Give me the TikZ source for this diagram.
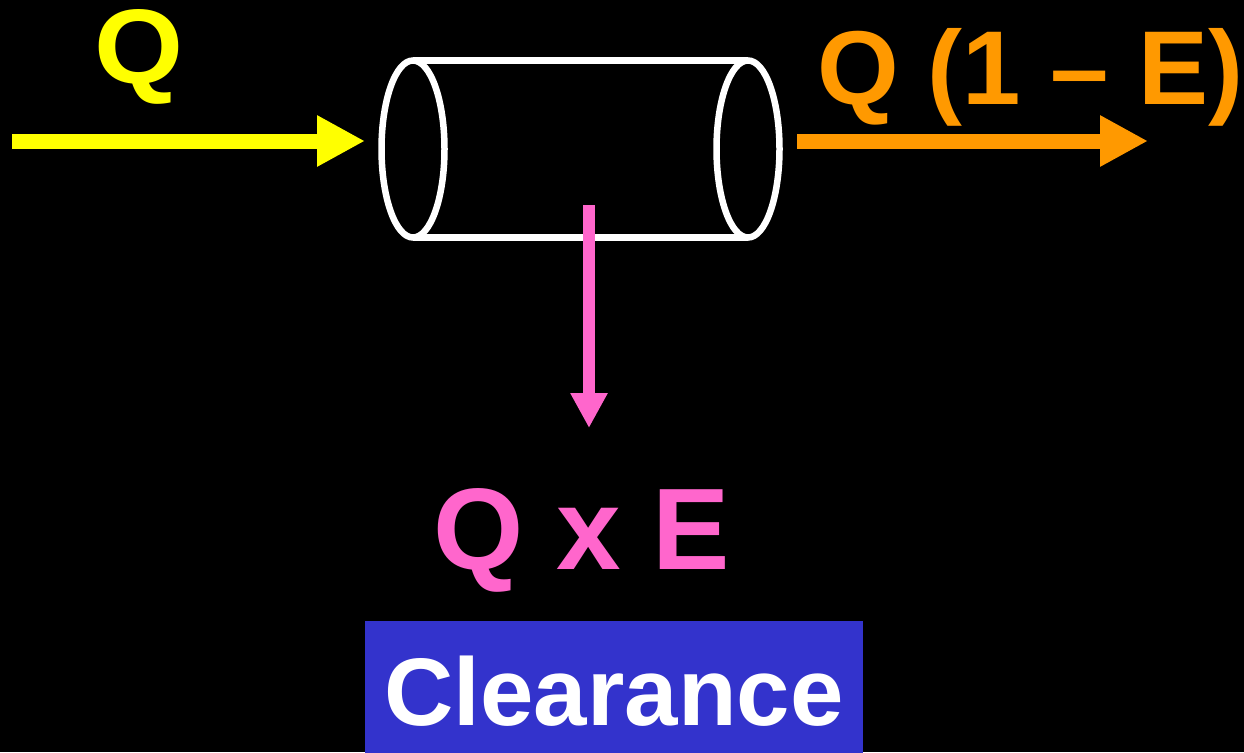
\documentclass[tikz,border=0pt]{standalone}
\usepackage{fontspec}
\setmainfont{Liberation Sans}
\usetikzlibrary{arrows.meta}
\definecolor{qyellow}{HTML}{FFFF00}
\definecolor{qorange}{HTML}{FF9900}
\definecolor{qpink}{HTML}{FF66CC}
\definecolor{qblue}{HTML}{3333CC}
\tikzset{
  bigarrow/.style={line width=15pt,-{Triangle[length=48pt,width=48pt]}},
  downarrow/.style={line width=12pt,-{Triangle[length=35pt,width=35pt]}},
  tube/.style={draw=white,line width=6.5pt},
  lbl/.style={inner sep=0pt,font=\bfseries},
}
\begin{document}
\begin{tikzpicture}[x=1pt,y=-1pt]
\useasboundingbox (0,0) rectangle (1244,752);
\fill[black] (0,0) rectangle (1244,752);
\clip (0,0) rectangle (1244,752);
% cylinder
\coordinate (lc) at (413,149);
\coordinate (rc) at (748,149);
\draw[tube] (413,60.5) -- (748,60.5);
\draw[tube] (413,237.5) -- (748,237.5);
\draw[tube,fill=black] (lc) ellipse [x radius=31.5, y radius=88.5];
\draw[tube] (rc) ellipse [x radius=31.5, y radius=88.5];
% yellow input
\coordinate (yin) at (12,141);
\coordinate (yout) at (365,141);
\draw[bigarrow,draw=qyellow,fill=qyellow] (yin) -- (yout);
\node[lbl,anchor=base,text=qyellow,xscale=1.08,font=\fontsize{106}{120}\selectfont\bfseries] (q) at (139,84) {Q};
% orange output
\coordinate (oin) at (797,141);
\coordinate (oout) at (1148,141);
\draw[bigarrow,draw=qorange,fill=qorange] (oin) -- (oout);
\node[lbl,anchor=base west,text=qorange,font=\fontsize{105}{120}\selectfont\bfseries] (q1e) at (817,104) {Q (1 – E)};
% pink extraction
\coordinate (pin) at (589,205);
\coordinate (pout) at (589,428);
\draw[downarrow,draw=qpink,fill=qpink] (pin) -- (pout);
\node[lbl,anchor=base,text=qpink,font=\fontsize{116}{130}\selectfont\bfseries] (qxe) at (582,569) {Q x E};
% clearance box
\node[fill=qblue,minimum width=498pt,minimum height=140pt,anchor=north west,inner sep=0pt] (box) at (365,621) {};
\node[lbl,anchor=base,text=white,font=\fontsize{96}{110}\selectfont\bfseries] (cl) at (614,725) {Clearance};
\end{tikzpicture}
\end{document}
